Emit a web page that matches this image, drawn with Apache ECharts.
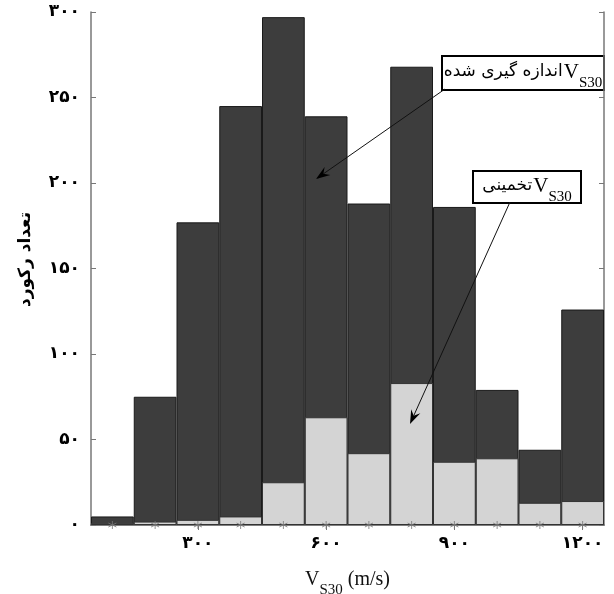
<!DOCTYPE html>
<html>
<head>
<meta charset="utf-8">
<script src="https://cdn.jsdelivr.net/npm/echarts@6/dist/echarts.min.js"></script>
<style>html,body{margin:0;padding:0;background:#fff}#c{width:614px;height:594px}</style>
</head>
<body>
<div id="c"></div>
<script>
// ---- data ----
const categories = [100, 200, 300, 400, 500, 600, 700, 800, 900, 1000, 1100, 1200];
const measured  = [5, 75, 177, 245, 297, 239, 188, 268, 186, 79, 44, 126];
const estimated = [1, 2, 3, 5, 25, 63, 42, 83, 37, 39, 13, 14];
const xTickValues = [300, 600, 900, 1200];
const yMin = 0, yMax = 300, yStep = 50;
const yAxisTitle = 'تعداد رکورد';
const legendMeasured = 'اندازه گیری شده';
const legendEstimated = 'تخمینی';

const toFa = n => String(n).replace(/\d/g, d => '۰۱۲۳۴۵۶۷۸۹'[+d]);

const chart = echarts.init(document.getElementById('c'), null, {renderer: 'canvas'});

const serif = '"Liberation Serif", "Times New Roman", serif';
const faFont = '"DejaVu Sans", sans-serif';

function arrow(x1, y1, x2, y2) {
  const dx = x2 - x1, dy = y2 - y1, L = Math.hypot(dx, dy);
  const ux = dx / L, uy = dy / L, px = -uy, py = ux;
  const len = 14, w = 5, notch = 9;
  const bx = x2 - ux * len, by = y2 - uy * len;
  const nx = x2 - ux * notch, ny = y2 - uy * notch;
  return [
    {type: 'line', shape: {x1, y1, x2: nx, y2: ny}, style: {stroke: '#111', lineWidth: 1}, z: 100},
    {type: 'polygon', shape: {points: [[x2, y2], [bx + px * w, by + py * w], [nx, ny], [bx - px * w, by - py * w]]},
     style: {fill: '#000'}, z: 101}
  ];
}

function labelBox(x, y, w, h, persian) {
  return {
    type: 'group', left: x, top: y, z: 110,
    children: [
      {type: 'rect', shape: {x: 0, y: 0, width: w, height: h}, style: {fill: '#fff', stroke: '#000', lineWidth: 2}},
      {type: 'text', x: w / 2, y: h / 2 - 1,
       style: {
         text: '{fa|' + persian + '}{v|V}{s|S30}',
         align: 'center', verticalAlign: 'middle',
         rich: {
           fa: {fontFamily: faFont, fontSize: 17, fill: '#000', lineHeight: 26, verticalAlign: 'middle', padding: [0, 1, 0, 0]},
           v: {fontFamily: serif, fontSize: 21, fill: '#000', lineHeight: 26, verticalAlign: 'middle'},
           s: {fontFamily: serif, fontSize: 15, fill: '#000', lineHeight: 14, verticalAlign: 'bottom', padding: [0, 0, -6, 0]}
         }
       }}
    ]
  };
}

const option = {
  animation: false,
  backgroundColor: '#fff',
  grid: {left: 91, right: 10, top: 12, bottom: 69, show: false, containLabel: false, outerBoundsMode: 'none'},
  xAxis: [
    {
      type: 'category', data: categories.map(String), boundaryGap: true,
      axisLine: {lineStyle: {color: '#777', width: 1.5}},
      axisTick: {show: false},
      axisLabel: {
        interval: 0, margin: 10,
        formatter: v => xTickValues.includes(+v) ? toFa(v) : '',
        fontFamily: faFont, fontWeight: 'bold', fontSize: 17, color: '#000'
      },
      name: '{v|V}{s|S30}{v| (m/s)}',
      nameLocation: 'middle', nameGap: 43,
      nameTextStyle: {
        rich: {
          v: {fontFamily: serif, fontSize: 20, color: '#111', lineHeight: 24, verticalAlign: 'middle'},
          s: {fontFamily: serif, fontSize: 15, color: '#111', lineHeight: 12, verticalAlign: 'bottom', padding: [0, 0, -6, 0]}
        }
      }
    },
    {
      type: 'category', position: 'top', data: categories.map(String), boundaryGap: true,
      axisLine: {lineStyle: {color: '#777', width: 1.5}},
      axisTick: {show: true, inside: true, alignWithLabel: true, length: 5,
                 interval: (i, v) => xTickValues.includes(+v), lineStyle: {color: '#777'}},
      axisLabel: {show: false}
    }
  ],
  yAxis: [
    {
      type: 'value', min: yMin, max: yMax, interval: yStep,
      axisLine: {show: true, lineStyle: {color: '#777', width: 1.5}},
      axisTick: {show: true, inside: true, length: 5, lineStyle: {color: '#777'}},
      splitLine: {show: false},
      axisLabel: {formatter: v => toFa(v), fontFamily: faFont, fontWeight: 'bold', fontSize: 17, color: '#000', margin: 11},
      name: yAxisTitle, nameLocation: 'middle', nameGap: 57,
      nameTextStyle: {fontFamily: faFont, fontWeight: 'bold', fontSize: 17, color: '#000', padding: [0, 0, 0, 18]}
    },
    {
      type: 'value', position: 'right', min: yMin, max: yMax, interval: yStep,
      axisLine: {show: true, lineStyle: {color: '#777', width: 1.5}},
      axisTick: {show: true, inside: true, length: 5, lineStyle: {color: '#777'}},
      splitLine: {show: false},
      axisLabel: {show: false}
    }
  ],
  series: [
    {
      name: 'measured', type: 'bar', data: measured, barGap: '-100%', barCategoryGap: '0%',
      itemStyle: {color: '#3d3d3d', borderColor: '#1a1a1a', borderWidth: 1}, z: 2
    },
    {
      name: 'estimated', type: 'bar', data: estimated, barGap: '-100%', barCategoryGap: '0%',
      itemStyle: {color: '#d4d4d4', borderColor: '#333', borderWidth: 1}, z: 3
    },
    {
      name: 'markers', type: 'scatter', data: categories.map((c, i) => [i, 0]),
      symbol: 'path://M5 0 L5 10 M0.67 2.5 L9.33 7.5 M9.33 2.5 L0.67 7.5',
      symbolSize: 8, clip: false, silent: true,
      itemStyle: {color: 'rgba(0,0,0,0)', borderColor: '#777', borderWidth: 1}, z: 5
    }
  ],
  graphic: [
    ...arrow(445, 89, 316, 179),
    ...arrow(510, 202, 410, 424),
    labelBox(441, 55, 162, 34, legendMeasured),
    labelBox(472, 170, 108, 32, legendEstimated)
  ]
};
chart.setOption(option);
</script>
</body>
</html>
